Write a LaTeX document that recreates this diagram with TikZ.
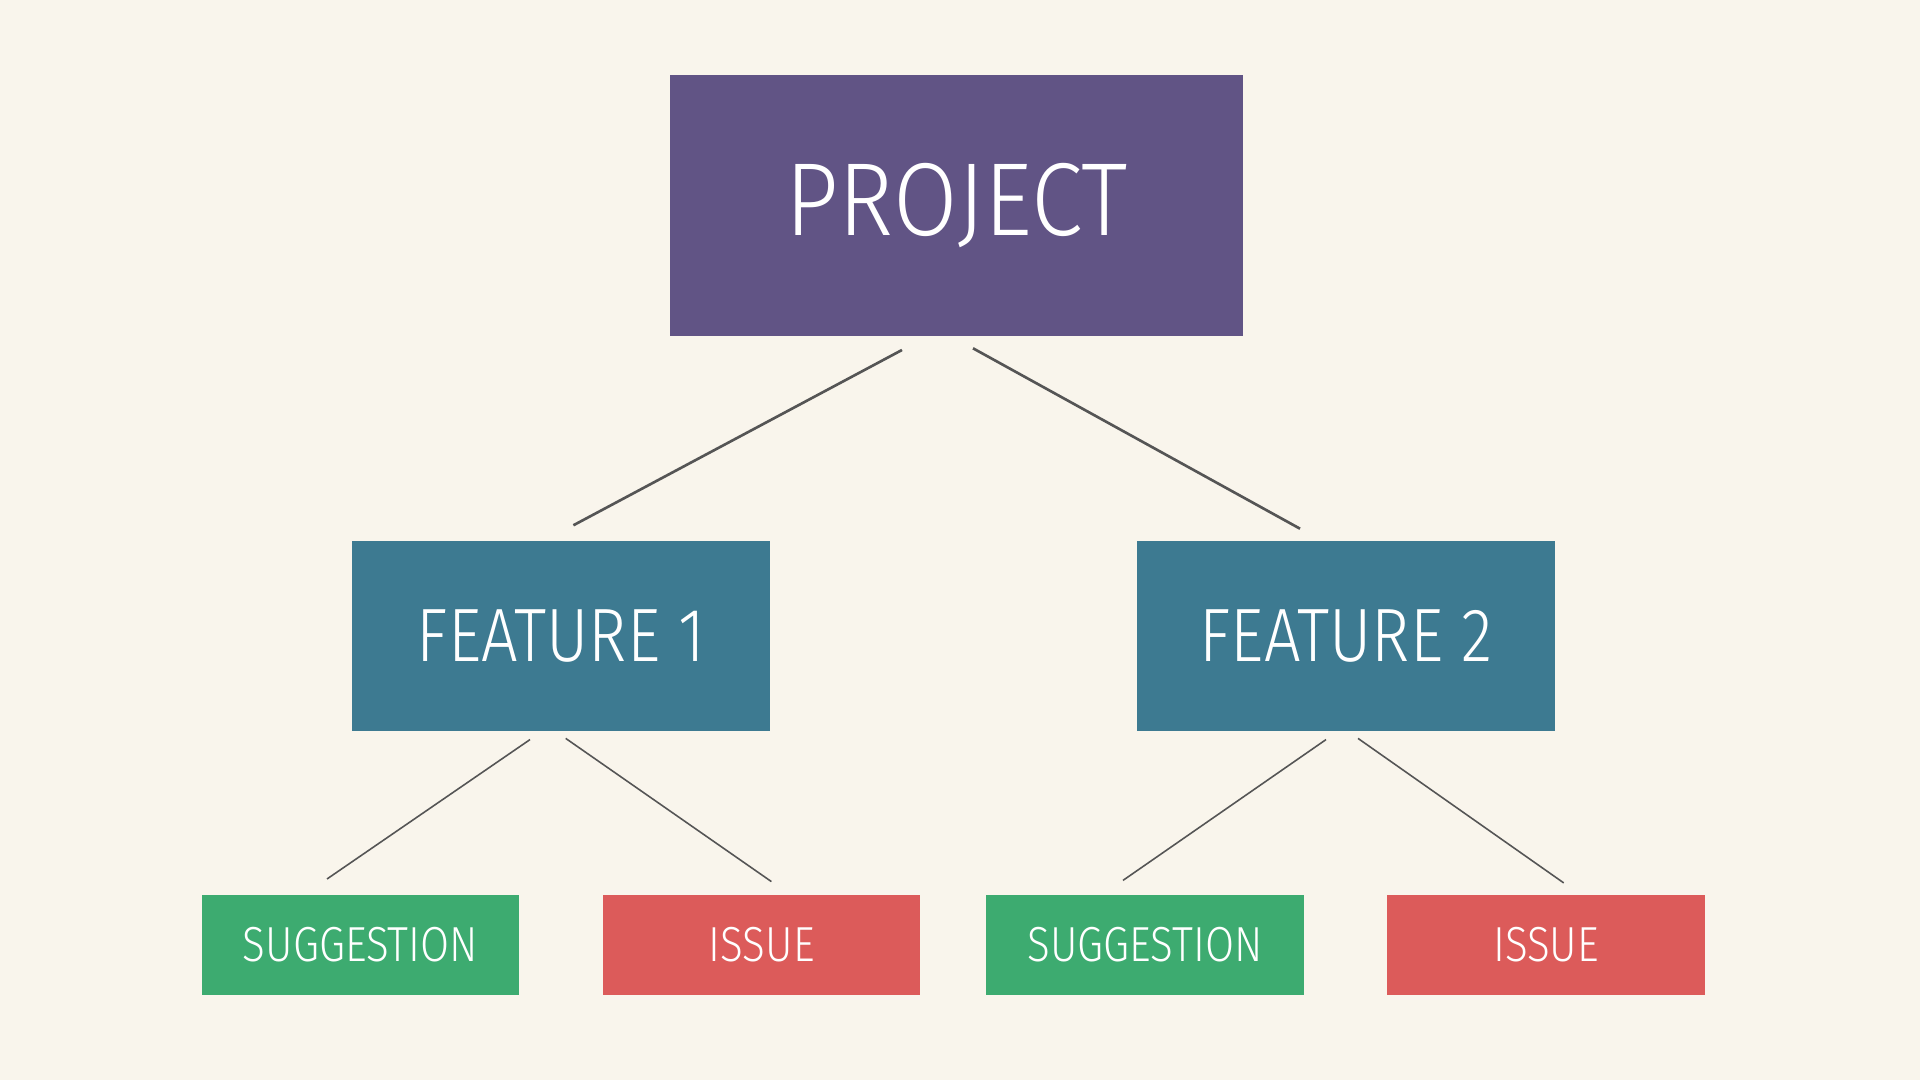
\documentclass[tikz,border=0pt]{standalone}
\usepackage{fontspec}
\newfontfamily\projfont[FakeStretch=0.90]{Fira Sans Light}
\newfontfamily\featfont[FakeStretch=0.857]{Fira Sans Light}
\newfontfamily\leaffont[FakeStretch=0.855]{Fira Sans Light}
\definecolor{paper}{HTML}{F9F5EC}
\definecolor{projcol}{HTML}{615485}
\definecolor{featcol}{HTML}{3D7A91}
\definecolor{suggcol}{HTML}{3DAB70}
\definecolor{issuecol}{HTML}{DC5B5A}
\definecolor{linkcol}{HTML}{555555}
\begin{document}
\begin{tikzpicture}[x=0.01cm,y=-0.01cm,
  card/.style={rectangle,inner sep=0pt,text=white},
  projbox/.style={card,fill=projcol,minimum width=5.73cm,minimum height=2.61cm,font=\projfont\fontsize{29.5}{30}\selectfont},
  featbox/.style={card,fill=featcol,minimum width=4.17cm,minimum height=1.90cm,font=\featfont\fontsize{21.5}{22}\selectfont},
  leafbox/.style={card,minimum width=3.17cm,minimum height=1.00cm,font=\leaffont\fontsize{14}{15}\selectfont},
  suggbox/.style={leafbox,fill=suggcol},
  issuebox/.style={leafbox,fill=issuecol},
  thick link/.style={draw=linkcol,line width=0.75pt},
  thin link/.style={draw=linkcol,line width=0.45pt}]
\fill[paper] (0,0) rectangle (1920,1080);
\useasboundingbox (0,0) rectangle (1920,1080);

\node[projbox] (project) at (956.5,205.5) {PROJECT};
\node[featbox] (feat1) at (561,636) {FEATURE 1};
\node[featbox] (feat2) at (1346,636) {FEATURE 2};
\node[suggbox] (sugg1) at (360.5,945) {SUGGESTION};
\node[issuebox] (issue1) at (761.7,945) {ISSUE};
\node[suggbox] (sugg2) at (1145,945) {SUGGESTION};
\node[issuebox] (issue2) at (1546,945) {ISSUE};

% end points of the links, left free of the boxes
\coordinate (p-l) at (902,350);
\coordinate (p-r) at (973,348.3);
\coordinate (f1-top) at (573.4,525.3);
\coordinate (f2-top) at (1300,528.7);
\coordinate (f1-l) at (530,739.6);
\coordinate (f1-r) at (565.7,738.4);
\coordinate (f2-l) at (1326,739.6);
\coordinate (f2-r) at (1358,738.4);
\coordinate (s1-top) at (327,879);
\coordinate (i1-top) at (771.4,881.6);
\coordinate (s2-top) at (1123,880.4);
\coordinate (i2-top) at (1563.7,882.9);

\draw[thick link] (p-l) -- (f1-top);
\draw[thick link] (p-r) -- (f2-top);
\draw[thin link] (f1-l) -- (s1-top);
\draw[thin link] (f1-r) -- (i1-top);
\draw[thin link] (f2-l) -- (s2-top);
\draw[thin link] (f2-r) -- (i2-top);
\end{tikzpicture}
\end{document}
